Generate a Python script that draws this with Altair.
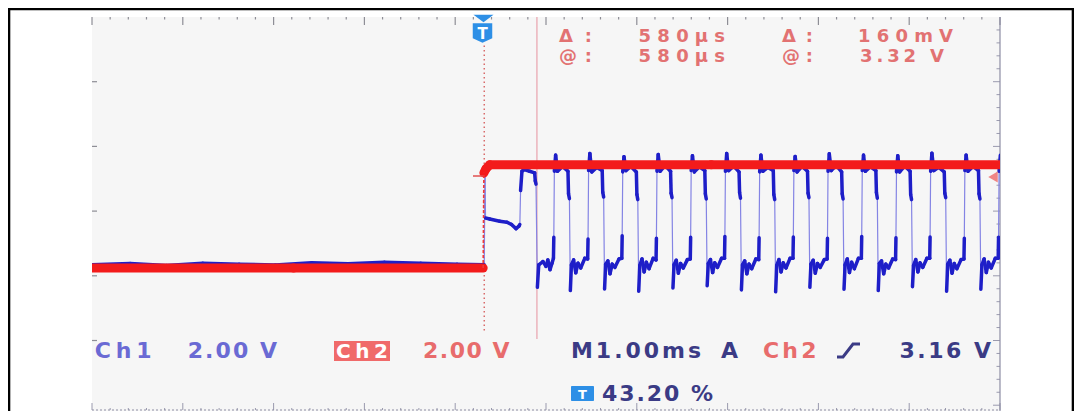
import altair as alt
import pandas as pd

# ---------------- values ----------------
TIME_DIV_MS = 1.00            # "M1.00ms"
TRIGGER_PCT = 43.20           # trigger position on screen
N_HDIV = 10
X_DOMAIN = [-TRIGGER_PCT / 100 * N_HDIV * TIME_DIV_MS,
            (1 - TRIGGER_PCT / 100) * N_HDIV * TIME_DIV_MS]   # ms
Y_DOMAIN = [-4.434, 7.783]    # volts (2.00 V/div)
CURSOR_T = [0.0, 0.58]        # ms  (delta 580 us)

# Ch2 (red)
red_t = [-4.32, -2.10, -0.012, -0.004, 0.020, 0.060, 2.50, 5.68]
red_v = [0.00, 0.00, 0.00, 2.95, 3.08, 3.20, 3.20, 3.20]

# Ch1 (blue) : before trigger
blue_pre_t = [-4.32, -3.90, -3.50, -3.10, -2.70, -2.30, -1.90, -1.50, -1.10, -0.70, -0.30, 0.000]
blue_pre_v = [0.10, 0.14, 0.08, 0.15, 0.12, 0.09, 0.16, 0.13, 0.18, 0.15, 0.12, 0.10]

# Ch1 : start-up step after the trigger
blue_start_t = [0.008, 0.014, 0.060, 0.170, 0.250, 0.300, 0.350, 0.382, 0.392, 0.400, 0.415, 0.440,
                0.500, 0.555, 0.562, 0.570, 0.585, 0.600, 0.646, 0.680, 0.700, 0.724, 0.746]
blue_start_v = [3.00, 1.55, 1.52, 1.45, 1.42, 1.35, 1.22, 1.30, 1.35, 2.40, 3.00, 3.05,
                3.00, 2.95, 2.70, 2.60, -0.60, 0.10, 0.20, 0.05, 0.25, -0.05, 0.15]

# Ch1 : pulse train
blue_pulse_t = [
    [0.762, 0.766, 0.772, 0.786, 0.807, 0.862, 0.922, 0.928, 0.938, 0.948, 0.960, 0.984, 1.008, 1.032, 1.062, 1.107],
    [1.139, 1.143, 1.149, 1.163, 1.184, 1.239, 1.299, 1.305, 1.315, 1.325, 1.337, 1.361, 1.385, 1.409, 1.439, 1.484],
    [1.515, 1.519, 1.525, 1.539, 1.560, 1.615, 1.675, 1.681, 1.691, 1.701, 1.713, 1.737, 1.761, 1.785, 1.815, 1.860],
    [1.892, 1.896, 1.902, 1.916, 1.937, 1.992, 2.052, 2.058, 2.068, 2.078, 2.090, 2.114, 2.138, 2.162, 2.192, 2.237],
    [2.269, 2.273, 2.279, 2.293, 2.314, 2.369, 2.429, 2.435, 2.445, 2.455, 2.467, 2.491, 2.515, 2.539, 2.569, 2.614],
    [2.646, 2.650, 2.656, 2.670, 2.691, 2.746, 2.806, 2.812, 2.822, 2.832, 2.844, 2.868, 2.892, 2.916, 2.946, 2.991],
    [3.023, 3.027, 3.033, 3.047, 3.068, 3.123, 3.183, 3.189, 3.199, 3.209, 3.221, 3.245, 3.269, 3.293, 3.323, 3.368],
    [3.400, 3.404, 3.410, 3.424, 3.445, 3.500, 3.560, 3.566, 3.576, 3.586, 3.598, 3.622, 3.646, 3.670, 3.700, 3.745],
    [3.776, 3.780, 3.786, 3.800, 3.821, 3.876, 3.936, 3.942, 3.952, 3.962, 3.974, 3.998, 4.022, 4.046, 4.076, 4.121],
    [4.153, 4.157, 4.163, 4.177, 4.198, 4.253, 4.313, 4.319, 4.329, 4.339, 4.351, 4.375, 4.399, 4.423, 4.453, 4.498],
    [4.530, 4.534, 4.540, 4.554, 4.575, 4.630, 4.690, 4.696, 4.706, 4.716, 4.728, 4.752, 4.776, 4.800, 4.830, 4.875],
    [4.906, 4.910, 4.916, 4.930, 4.951, 5.006, 5.066, 5.072, 5.082, 5.092, 5.104, 5.128, 5.152, 5.176, 5.206, 5.251],
    [5.283, 5.287, 5.293, 5.307, 5.328, 5.383, 5.443, 5.449, 5.459, 5.469, 5.481, 5.505, 5.529, 5.553, 5.583, 5.628],
    [5.660, 5.664, 5.670, 5.684],
]
blue_pulse_v = [
    [0.30, 0.95, 3.00, 3.50, 3.00, 3.15, 3.00, 2.30, 2.15, -0.70, 0.10, 0.25, -0.15, 0.15, 0.00, 0.30],
    [0.28, 0.90, 3.02, 3.55, 2.98, 3.12, 3.02, 2.35, 2.20, -0.65, 0.12, 0.22, -0.18, 0.12, 0.02, 0.28],
    [0.30, 1.00, 2.98, 3.45, 3.02, 3.15, 2.98, 2.28, 2.12, -0.72, 0.08, 0.28, -0.12, 0.18, -0.02, 0.30],
    [0.25, 0.92, 3.00, 3.52, 3.00, 3.18, 3.00, 2.32, 2.18, -0.62, 0.10, 0.24, -0.16, 0.14, 0.00, 0.26],
    [0.28, 0.95, 3.02, 3.48, 2.98, 3.14, 3.02, 2.30, 2.14, -0.55, 0.14, 0.26, -0.14, 0.16, 0.02, 0.30],
    [0.30, 0.98, 3.00, 3.55, 3.02, 3.16, 2.98, 2.34, 2.16, -0.68, 0.10, 0.22, -0.18, 0.12, -0.02, 0.28],
    [0.26, 0.94, 2.98, 3.50, 3.00, 3.12, 3.02, 2.28, 2.12, -0.74, 0.08, 0.26, -0.12, 0.16, 0.00, 0.30],
    [0.30, 0.96, 3.02, 3.46, 2.98, 3.15, 3.00, 2.32, 2.18, -0.60, 0.12, 0.24, -0.16, 0.14, 0.02, 0.26],
    [0.28, 0.92, 3.00, 3.54, 3.02, 3.18, 2.98, 2.30, 2.14, -0.66, 0.10, 0.28, -0.14, 0.18, -0.02, 0.30],
    [0.30, 0.98, 3.02, 3.50, 3.00, 3.14, 3.02, 2.34, 2.16, -0.70, 0.14, 0.22, -0.18, 0.12, 0.00, 0.28],
    [0.26, 0.94, 2.98, 3.48, 2.98, 3.16, 3.00, 2.28, 2.12, -0.58, 0.08, 0.26, -0.12, 0.16, 0.02, 0.30],
    [0.30, 0.96, 3.00, 3.56, 3.02, 3.12, 2.98, 2.32, 2.18, -0.72, 0.12, 0.24, -0.16, 0.14, -0.02, 0.26],
    [0.28, 0.92, 3.02, 3.50, 3.00, 3.15, 3.02, 2.30, 2.14, -0.66, 0.10, 0.28, -0.14, 0.18, 0.00, 0.30],
    [0.30, 0.95, 3.00, 3.50],
]

# ---------------- layout (pixels) ----------------
W, H = 908, 394
OX, OY = 92, 17           # page position of the screen's top-left corner
HD, VD = W / N_HDIV, 64.7

blue_t = blue_pre_t + blue_start_t + [t for c in blue_pulse_t for t in c]
blue_v = blue_pre_v + blue_start_v + [v for c in blue_pulse_v for v in c]
assert len(blue_t) == len(blue_v)


def segments(ts, vs, thr=0.9):
    rows = []
    for i in range(len(ts) - 1):
        kind = "edge" if abs(vs[i + 1] - vs[i]) > thr else "flat"
        rows.append(dict(t=ts[i], v=vs[i], t2=ts[i + 1], v2=vs[i + 1], kind=kind))
    return pd.DataFrame(rows)


xs = alt.Scale(domain=X_DOMAIN, nice=False, zero=False)
ys = alt.Scale(domain=Y_DOMAIN, nice=False, zero=False)


def seg_layer(df, color, width, dash=None, cap="round"):
    kw = dict(color=color, strokeWidth=width, strokeCap=cap, clip=True)
    if dash:
        kw["strokeDash"] = dash
    return alt.Chart(df).mark_rule(**kw).encode(
        x=alt.X("t:Q", scale=xs, axis=None), x2="t2:Q",
        y=alt.Y("v:Q", scale=ys, axis=None), y2="v2:Q")


bseg = segments(blue_t, blue_v)
rseg = segments(red_t, red_v)

blue_edges = seg_layer(bseg[bseg.kind == "edge"], "#8484e4", 1.2)
blue_flats = seg_layer(bseg[bseg.kind == "flat"], "#1e1ec8", 3.5)
red_flats = seg_layer(rseg[rseg.kind == "flat"], "#f31b1b", 9)
red_edges = seg_layer(rseg[rseg.kind == "edge"], "#f03a3a", 1.6, dash=[3, 2], cap="butt")

# cursors (data coordinates)
cur_df = pd.DataFrame(dict(t=[CURSOR_T[1]], v=[Y_DOMAIN[1]], t2=[CURSOR_T[1]], v2=[-2.2]))
cursor_line = alt.Chart(cur_df).mark_rule(color="#eaa8b2", strokeWidth=1.3).encode(
    x=alt.X("t:Q", scale=xs, axis=None), x2="t2:Q",
    y=alt.Y("v:Q", scale=ys, axis=None), y2="v2:Q")
trig_df = pd.DataFrame(dict(t=[CURSOR_T[0]], v=[6.9], t2=[CURSOR_T[0]], v2=[-2.0]))
trig_line = alt.Chart(trig_df).mark_rule(color="#d86a6a", strokeWidth=1.5, strokeDash=[1.5, 3]).encode(
    x=alt.X("t:Q", scale=xs, axis=None), x2="t2:Q",
    y=alt.Y("v:Q", scale=ys, axis=None), y2="v2:Q")


def prule(rows, color, width, dash=None):
    df = pd.DataFrame(rows, columns=["x1", "y1", "x2", "y2"])
    kw = dict(color=color, strokeWidth=width)
    if dash:
        kw["strokeDash"] = dash
    return alt.Chart(df).mark_rule(**kw).encode(
        x=alt.X("x1:Q", scale=None, axis=None), x2="x2:Q",
        y=alt.Y("y1:Q", scale=None, axis=None), y2="y2:Q")


# graticule ticks
top_ticks = []
bot_ticks = []
for k in range(51):
    x = k * HD / 5
    major = (k % 5 == 0)
    top_ticks.append((x, 0, x, 8 if major else 2.5))
    bot_ticks.append((x, H - (8 if major else 3), x, H - 1))
left_ticks = [(0, j * VD, 5, j * VD) for j in range(1, 6)]
right_ticks = []
m = 1
while m * VD / 5 < H:
    y = m * VD / 5
    right_ticks.append((W - (7 if m % 5 == 0 else 3.5), y, W, y))
    m += 1

ticks = prule(top_ticks + left_ticks, "#8e8e96", 1.2)
ticks2 = prule(bot_ticks + right_ticks, "#9a9aae", 1)
bottom_line = prule([(0, H - 1, W, H - 1)], "#8e8ea4", 1.2, dash=[2, 2])
right_line = prule([(W, 0, W, H)], "#8e8ea4", 1.2)
border = prule([(-84, -8, 982, -8), (-83, -9, -83, H), (981, -9, 981, H)], "#000000", 2.6)
small_dash = prule([(381, 159, 391, 159)], "#e05050", 1.5)

# boxes
box_df = pd.DataFrame(dict(x1=[334 - OX], x2=[390 - OX], y1=[341 - OY], y2=[361 - OY]))
ch2_box = alt.Chart(box_df).mark_rect(color="#f06a6a").encode(
    x=alt.X("x1:Q", scale=None, axis=None), x2="x2:Q",
    y=alt.Y("y1:Q", scale=None, axis=None), y2="y2:Q")
ticon_df = pd.DataFrame(dict(x1=[571 - OX], x2=[594 - OX], y1=[386 - OY], y2=[401 - OY]))
t_icon = alt.Chart(ticon_df).mark_rect(color="#2d8fe6", cornerRadius=1).encode(
    x=alt.X("x1:Q", scale=None, axis=None), x2="x2:Q",
    y=alt.Y("y1:Q", scale=None, axis=None), y2="y2:Q")


def psym(x, y, shape, size, color):
    df = pd.DataFrame(dict(px=[x - OX], py=[y - OY]))
    return alt.Chart(df).mark_point(shape=shape, size=size, filled=True, color=color, opacity=1,
                                    strokeWidth=0).encode(
        x=alt.X("px:Q", scale=None, axis=None), y=alt.Y("py:Q", scale=None, axis=None))


shield = psym(482.5, 33, "M-1,-1L1,-1L1,0.55L0,1L-1,0.55Z", 380, "#2d8fe6")
tri_top = psym(483.5, 18.5, "M-1,-0.38L1,-0.38L0,0.38Z", 400, "#2d8fe6")
trig_level = psym(993, 177, "triangle-left", 120, "#f08585")

# slope symbol of the trigger readout
slope_df = pd.DataFrame(dict(px=[837 - OX, 843 - OX, 853 - OX, 860 - OX],
                             py=[357 - OY, 357 - OY, 344 - OY, 344 - OY], o=[0, 1, 2, 3]))
slope = alt.Chart(slope_df).mark_line(color="#3b3b85", strokeWidth=3).encode(
    x=alt.X("px:Q", scale=None, axis=None), y=alt.Y("py:Q", scale=None, axis=None), order="o:Q")

# ---------------- texts ----------------
BOLD = {"0": .696, "1": .696, "2": .696, "3": .696, "4": .696, "5": .696, "6": .696, "8": .696,
        ".": .381, " ": .348, ":": .400, "%": 1.002, "@": 1.0, "A": .774, "C": .734, "M": .995,
        "T": .683, "V": .774, "h": .712, "m": 1.042, "s": .595, "µ": .721, "Δ": .774}


def spread(s, x0, x1, base, fs, color, table):
    ws = [table.get(c, 0.65) * fs for c in s]
    if len(s) == 1:
        return [dict(ch=s, px=(x0 + x1) / 2 - OX, py=base - OY, fs=fs, col=color)]
    gap = ((x1 - x0) - sum(ws)) / (len(s) - 1)
    rows, cur = [], x0
    for c, w in zip(s, ws):
        if c != " ":
            rows.append(dict(ch=c, px=cur + w / 2 - OX, py=base - OY, fs=fs, col=color))
        cur += w + gap
    return rows


SAL = "#e27272"
top_rows = []
for s, x0, x1, b in [("Δ:", 559, 592, 41.5), ("580µs", 638.5, 725, 41.5),
                     ("Δ:", 782, 813, 41.5), ("160mV", 858, 953, 41.5),
                     ("@:", 559, 592, 62), ("580µs", 638.5, 725, 62),
                     ("@:", 782, 813, 62), ("3.32 V", 860, 944, 62)]:
    top_rows += spread(s, x0, x1, b, 18, SAL, BOLD)

BLU, NAV, RED = "#6a6ad4", "#3b3b85", "#e86c6c"
bold_rows = []
for s, x0, x1, b, fs, col in [("Ch1", 94.7, 151.5, 357.5, 22, BLU), ("2.00 V", 187.7, 277, 357.5, 22, BLU),
                              ("Ch2", 336, 388, 357.5, 20, "#ffffff"), ("2.00 V", 423, 509.6, 357.5, 22, RED),
                              ("M1.00ms", 571, 701, 357.5, 22, NAV), ("A", 720, 739, 357.5, 22, NAV),
                              ("Ch2", 763, 816.5, 357.5, 22, RED), ("3.16 V", 899.5, 991, 357.5, 22, NAV),
                              ("43.20 %", 602, 713, 401, 22, NAV),
                              ("T", 573, 592, 399, 13, "#ffffff"), ("T", 473, 492, 39, 15, "#ffffff")]:
    bold_rows += spread(s, x0, x1, b, fs, col, BOLD)


def text_layer(rows, weight):
    return alt.Chart(pd.DataFrame(rows)).mark_text(
        font="DejaVu Sans", fontWeight=weight, align="center", baseline="alphabetic").encode(
        x=alt.X("px:Q", scale=None, axis=None), y=alt.Y("py:Q", scale=None, axis=None),
        text="ch:N", color=alt.Color("col:N", scale=None), size=alt.Size("fs:Q", scale=None))


top_text = text_layer(top_rows, "bold")
bold_text = text_layer(bold_rows, "bold")

chart = alt.layer(
    ticks, ticks2, bottom_line, right_line,
    cursor_line, trig_line,
    blue_edges, blue_flats, red_flats, red_edges,
    small_dash, trig_level, tri_top, shield,
    ch2_box, t_icon, slope, top_text, bold_text, border,
).resolve_scale(x="independent", y="independent").properties(
    width=W, height=H,
    padding={"left": 84, "top": 9, "right": 74, "bottom": 0},
    autosize=alt.AutoSizeParams(type="none"),
    background="#ffffff",
).configure_view(strokeWidth=0, fill="#f6f6f6")

chart.save("out.html", embed_options={"renderer": "svg", "actions": False})
